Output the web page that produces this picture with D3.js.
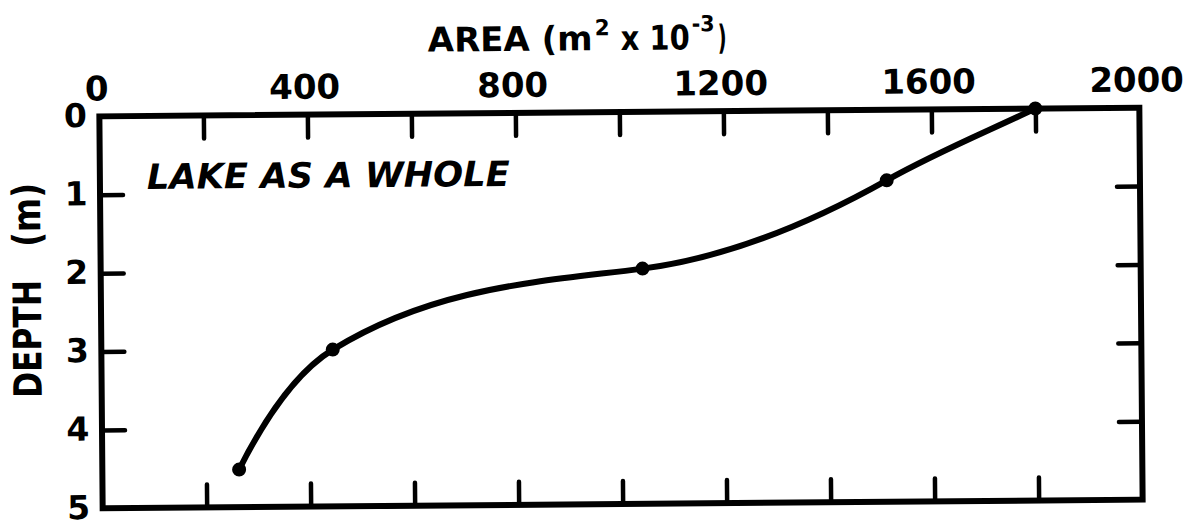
<!DOCTYPE html>
<html>
<head>
<meta charset="utf-8">
<script src="https://cdn.jsdelivr.net/npm/d3@7"></script>
<style>
  html, body { margin: 0; padding: 0; background: #fff; }
  svg { display: block; }
  text { font-family: "DejaVu Sans", sans-serif; font-weight: bold; fill: #000; }
</style>
</head>
<body>
<svg id="chart" width="1191" height="526"></svg>
<script>
// Hypsographic curve: lake area against depth

// measured points
const areaValues  = [263, 445, 1042, 1513, 1800];   // m^2 x 10^-3
const depthValues = [4.52, 3.0, 2.0, 0.9, 0.0];     // m
// gradient of the drawn curve at each point (m of depth per 1000 area units)
const depthGradient = [-12.9, -4.0, -0.8, -3.65, -3.1];

const areaTickLabels  = [0, 400, 800, 1200, 1600, 2000];
const areaTickMarks   = [200, 400, 600, 800, 1000, 1200, 1400, 1600, 1800];
const depthTickLabels = [0, 1, 2, 3, 4, 5];
const depthTickMarks  = [1, 2, 3, 4];

const svg = d3.select("#chart");

const plot = { left: 101, top: 112, width: 1040, height: 392 };
const tickLen = 23;

const x = d3.scaleLinear().domain([0, 2000]).range([plot.left, plot.left + plot.width]);
const y = d3.scaleLinear().domain([0, 5]).range([plot.top, plot.top + plot.height]);

// whole drawing sits at a slight tilt
const g = svg.append("g")
  .attr("transform", `rotate(-0.48, ${plot.left + plot.width / 2}, ${plot.top + plot.height / 2})`);

function styleTicks(sel) {
  sel.select(".domain").remove();
  sel.selectAll(".tick line")
    .attr("stroke", "#000")
    .attr("stroke-width", 4.5)
    .attr("stroke-linecap", "round");
}

// inward tick marks on all four sides
g.append("g").attr("transform", `translate(0,${plot.top})`)
  .call(d3.axisTop(x).tickValues(areaTickMarks).tickSize(-tickLen).tickFormat(""))
  .call(styleTicks);
g.append("g").attr("transform", `translate(0,${plot.top + plot.height})`)
  .call(d3.axisBottom(x).tickValues(areaTickMarks).tickSize(-tickLen).tickFormat(""))
  .call(styleTicks);
g.append("g").attr("transform", `translate(${plot.left},0)`)
  .call(d3.axisLeft(y).tickValues(depthTickMarks).tickSize(-tickLen).tickFormat(""))
  .call(styleTicks);
g.append("g").attr("transform", `translate(${plot.left + plot.width},0)`)
  .call(d3.axisRight(y).tickValues(depthTickMarks).tickSize(-tickLen).tickFormat(""))
  .call(styleTicks);

// tick labels
const topLabels = g.append("g").attr("transform", `translate(0,${plot.top})`)
  .call(d3.axisTop(x).tickValues(areaTickLabels).tickSize(0).tickPadding(16).tickFormat(d3.format("d")));
topLabels.select(".domain").remove();
topLabels.selectAll("text")
  .attr("font-size", 34)
  .attr("font-family", "DejaVu Sans, sans-serif")
  .attr("font-weight", "bold")
  .attr("fill", "#000")
  .attr("dx", -3);

const leftLabels = g.append("g").attr("transform", `translate(${plot.left},0)`)
  .call(d3.axisLeft(y).tickValues(depthTickLabels).tickSize(0).tickFormat(d3.format("d")));
leftLabels.select(".domain").remove();
leftLabels.selectAll("text")
  .attr("font-size", 33)
  .attr("font-family", "DejaVu Sans, sans-serif")
  .attr("font-weight", "bold")
  .attr("fill", "#000")
  .attr("text-anchor", "middle")
  .attr("x", -24)
  .attr("dy", null)
  .attr("y", 10);

// frame
g.append("rect")
  .attr("x", plot.left).attr("y", plot.top)
  .attr("width", plot.width).attr("height", plot.height)
  .attr("fill", "none").attr("stroke", "#000").attr("stroke-width", 6);

// text squeezed horizontally to a given width (lettering is narrower than the font)
function fitText(txt, size, width, transform, opts = {}) {
  const t = g.append("text")
    .attr("font-size", size)
    .attr("text-anchor", opts.anchor || "start")
    .attr("font-style", opts.italic ? "italic" : null)
    .text(txt);
  const natural = t.node().getComputedTextLength();
  t.attr("transform", `${transform} scale(${width / natural},1)`);
  return t;
}

// x-axis title
fitText("AREA (m", 34, 165, "translate(430,50)");
fitText("2", 22, 15, "translate(597,35)");
fitText("x 10", 34, 69, "translate(623,50)");
fitText("-3", 22, 23, "translate(694,32)");
fitText(")", 34, 9, "translate(720,50)");

// y-axis title
fitText("DEPTH", 39, 118, "translate(41,334) rotate(-90)", { anchor: "middle" });
fitText("(m)", 39, 64, "translate(41,210) rotate(-90)", { anchor: "middle" });

// annotation
fitText("LAKE AS A WHOLE", 35, 363, "translate(148,185)", { italic: true });

// smooth curve through the points (cubic Hermite segments using the gradients)
const pts = areaValues.map((a, i) => ({ area: a, depth: depthValues[i], grad: depthGradient[i] / 1000 }));
const p = d3.path();
p.moveTo(x(pts[0].area), y(pts[0].depth));
for (let i = 0; i < pts.length - 1; i++) {
  const a = pts[i], b = pts[i + 1];
  const h = b.area - a.area;
  p.bezierCurveTo(
    x(a.area + h / 3), y(a.depth + a.grad * h / 3),
    x(b.area - h / 3), y(b.depth - b.grad * h / 3),
    x(b.area), y(b.depth)
  );
}
g.append("path")
  .attr("d", p.toString())
  .attr("fill", "none")
  .attr("stroke", "#000")
  .attr("stroke-width", 6)
  .attr("stroke-linecap", "round");

// measured points
g.selectAll("circle.pt")
  .data(pts)
  .join("circle")
  .attr("class", "pt")
  .attr("cx", d => x(d.area))
  .attr("cy", d => y(d.depth))
  .attr("r", 7)
  .attr("fill", "#000");
</script>
</body>
</html>
